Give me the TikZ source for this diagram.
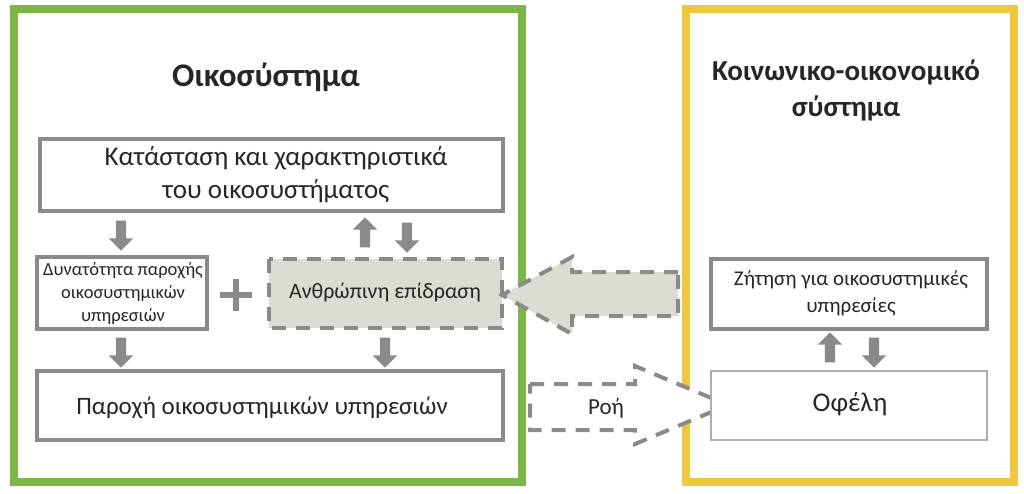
\documentclass[tikz,border=0pt]{standalone}
\usepackage{fontspec}
\setmainfont{Carlito}
\usetikzlibrary{shapes.arrows}
\definecolor{gr}{HTML}{8A8A8A}
\definecolor{lg}{HTML}{DCDCD4}
\definecolor{grn}{HTML}{7DB646}
\definecolor{yel}{HTML}{EFC73C}
\tikzset{
 box/.style={draw=gr,line width=3.5pt,fill=white},
 sarr/.style={single arrow,fill=gr,draw=none,inner sep=5pt,minimum width=24pt,minimum height=30pt,single arrow head extend=7pt},
 dsh/.style={draw=gr,line width=4pt,dash pattern=on 14pt off 10pt},
 txt/.style={align=center,text=black!85}
}
\begin{document}
\begin{tikzpicture}[x=1pt,y=-1pt]
\useasboundingbox (0,0) rectangle (1024,493);
\fill[white] (0,0) rectangle (1024,493);
% frames
\draw[grn,line width=8pt] (14,9) rectangle (522,482);
\draw[yel,line width=8pt] (686,9) rectangle (1014,482);
% titles
\node[txt,font=\bfseries\fontsize{33}{38}\selectfont] (t1) at (266,77) {Οικοσύστημα};
\node[txt,font=\bfseries\fontsize{29}{36}\selectfont] (t2) at (846,90) {Κοινωνικο-οικονομικό\\σύστημα};
% boxes
\draw[box] (40,139) rectangle (503,211);
\node[txt,font=\fontsize{27}{33}\selectfont] (k) at (276,175) {Κατάσταση και χαρακτηριστικά\\του οικοσυστήματος};
\draw[box] (37,257) rectangle (207,329);
\node[txt,font=\fontsize{18.5}{23}\selectfont] (d) at (123,293) {Δυνατότητα παροχής\\οικοσυστημικών\\υπηρεσιών};
\fill[lg] (269,259) rectangle (502,328);
\draw[dsh] (269,259) rectangle (502,328);
\node[txt,font=\fontsize{22}{26}\selectfont] (a) at (385,293) {Ανθρώπινη επίδραση};
\draw[box] (37,371) rectangle (503,440);
\node[txt,font=\fontsize{25}{28}\selectfont] (p) at (262,408) {Παροχή οικοσυστημικών υπηρεσιών};
\draw[box] (711,259) rectangle (987,329);
\node[txt,font=\fontsize{21}{27}\selectfont] (z) at (851,293) {Ζήτηση για οικοσυστημικές\\υπηρεσίες};
% big arrow (human impact)
\path[fill=lg] (678,272) -- (572,272) -- (572,257) -- (502,295) -- (572,334) -- (572,316) -- (678,316) -- cycle;
\draw[dsh] (678,272) -- (572,272) -- (572,257) -- (502,295) -- (572,334) -- (572,316) -- (678,316) -- cycle;
% flow arrow
\path[fill=white] (530,384) -- (635,384) -- (635,366) -- (728,405) -- (635,444) -- (635,430) -- (530,430) -- cycle;
\draw[dsh] (530,384) -- (635,384) -- (635,366) -- (728,405) -- (635,444) -- (635,430) -- (530,430) -- cycle;
\node[txt,font=\fontsize{23}{26}\selectfont] (r) at (606,408) {Ροή};
\draw[draw=gr!70,line width=1.2pt,fill=white] (711,371) rectangle (987,440);
\node[txt,font=\fontsize{27}{30}\selectfont] (o) at (850,404) {Οφέλη};
% plus
\fill[gr] (220,292) rectangle (252,298);
\fill[gr] (233,279) rectangle (239,311);
% small arrows
\node[sarr,shape border rotate=270] (s1) at (121,233) {};
\node[sarr,shape border rotate=90] (s2) at (365,235) {};
\node[sarr,shape border rotate=270] (s3) at (407,235) {};
\node[sarr,shape border rotate=270] (s4) at (121,350) {};
\node[sarr,shape border rotate=270] (s5) at (385,350) {};
\node[sarr,shape border rotate=90] (s6) at (830,350) {};
\node[sarr,shape border rotate=270] (s7) at (874,350) {};
\end{tikzpicture}
\end{document}
